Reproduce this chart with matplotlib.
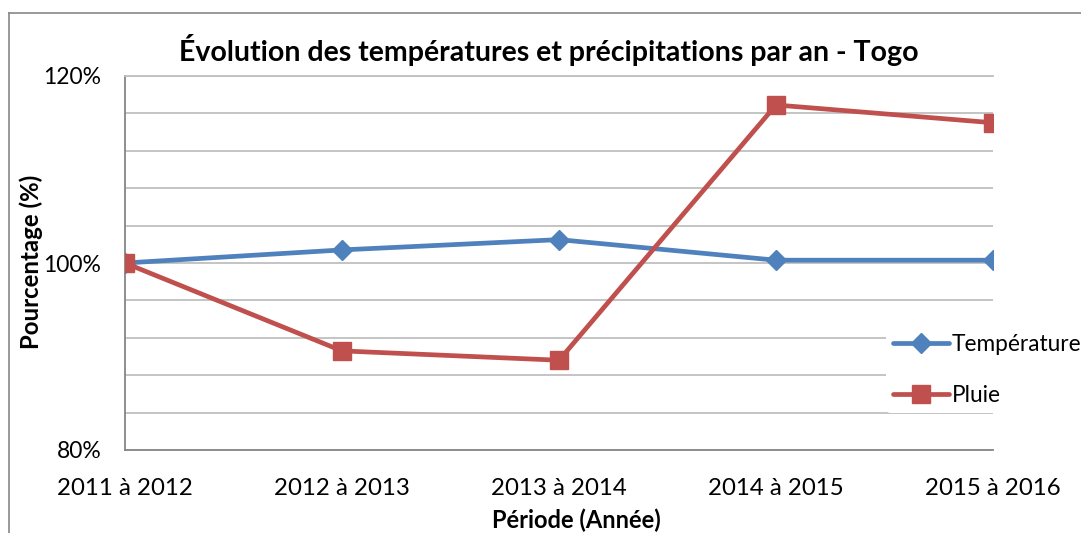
import matplotlib
matplotlib.use("Agg")
import matplotlib.pyplot as plt
from matplotlib.lines import Line2D
from matplotlib.ticker import MultipleLocator, FuncFormatter

periods = ["2011 à 2012", "2012 à 2013", "2013 à 2014", "2014 à 2015", "2015 à 2016"]
temperature = [100.0, 101.4, 102.5, 100.3, 100.3]
pluie = [100.0, 90.6, 89.6, 116.9, 115.0]

plt.rcParams['font.family'] = ['Lato', 'DejaVu Sans']

W, H = 1081, 533
fig = plt.figure(figsize=(W / 100, H / 100), dpi=100)
ax = fig.add_axes([125 / W, 1 - 450 / H, (993 - 125) / W, (450 - 76) / H])

blue = "#4F81BD"
red = "#C0504D"
x = list(range(len(periods)))
ax.plot(x, temperature, color=blue, lw=3.4, marker="D", markersize=10,
        label="Température", zorder=3, solid_capstyle="round")
ax.plot(x, pluie, color=red, lw=3.4, marker="s", markersize=13,
        label="Pluie", zorder=4, solid_capstyle="round")

ax.set_xlim(0, len(periods) - 1)
ax.set_ylim(80, 120)
ax.set_xticks(x)
ax.set_xticklabels(periods, fontsize=17.3)
ax.yaxis.set_major_locator(MultipleLocator(20))
ax.yaxis.set_minor_locator(MultipleLocator(4))
ax.yaxis.set_major_formatter(FuncFormatter(lambda v, p: f"{v:.0f}%"))
ax.tick_params(axis="y", which="both", length=0, labelsize=16.5, pad=17)
ax.tick_params(axis="x", length=0, pad=20)
ax.grid(True, which="both", axis="y", color="#BFBFBF", lw=1.3, zorder=0)
ax.grid(False, axis="x")
ax.set_axisbelow(True)
ax.spines["right"].set_visible(False)
for s in ["left", "bottom", "top"]:
    ax.spines[s].set_color("#868686")
    ax.spines[s].set_linewidth(1.3)
ax.spines["top"].set_color("#BFBFBF")

fig.text(549 / W, 1 - 50 / H, "Évolution des températures et précipitations par an - Togo",
         ha="center", va="center", fontsize=20.5, fontweight="bold")
fig.text(31 / W, 1 - 262 / H, "Pourcentage (%)", rotation=90, ha="center", va="center",
         fontsize=17.3, fontweight="bold")
fig.text(576 / W, 1 - 520 / H, "Période (Année)", ha="center", va="center",
         fontsize=17, fontweight="bold")

# outer chart border
fig.add_artist(Line2D([9 / W, 1.0], [1 - 13 / H, 1 - 13 / H], color="#888888", lw=1.2))
fig.add_artist(Line2D([9 / W, 9 / W], [0, 1 - 13 / H], color="#888888", lw=1.2))

leg = fig.legend(loc="center left", bbox_to_anchor=(886 / W, 1 - 370 / H),
                 frameon=True, fontsize=16.3, handlelength=2.5, handletextpad=0.1,
                 labelspacing=1.35, borderpad=0.3, borderaxespad=0)
leg.get_frame().set_edgecolor("none")
leg.get_frame().set_facecolor("white")
leg.get_frame().set_alpha(1)

fig.savefig("out.png", dpi=100)
